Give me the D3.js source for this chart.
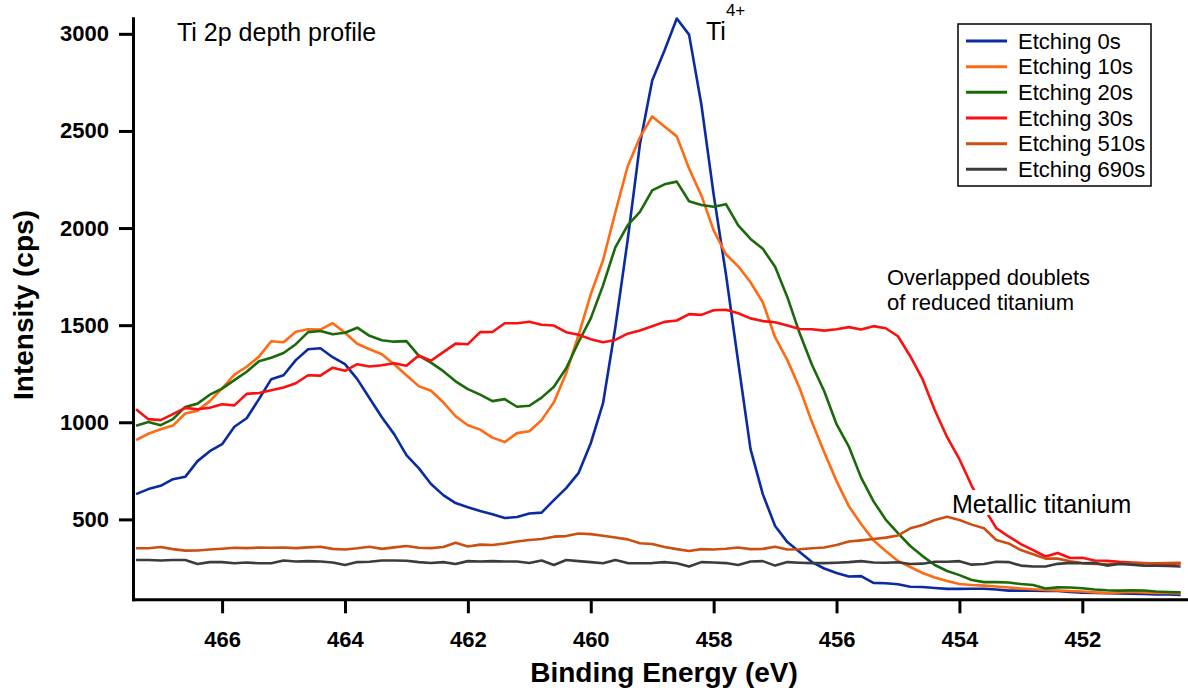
<!DOCTYPE html>
<html>
<head>
<meta charset="utf-8">
<script src="https://cdn.jsdelivr.net/npm/d3@7"></script>
<style>
  html, body { margin: 0; padding: 0; background: #fff; }
  svg { display: block; }
</style>
</head>
<body>
<div id="chart"></div>
<script>
// binding energy grid (eV), every 0.2 eV
const energies = [467.4, 467.2, 467.0, 466.8, 466.6, 466.4, 466.2, 466.0, 465.8, 465.6,
  465.4, 465.2, 465.0, 464.8, 464.6, 464.4, 464.2, 464.0, 463.8, 463.6,
  463.4, 463.2, 463.0, 462.8, 462.6, 462.4, 462.2, 462.0, 461.8, 461.6,
  461.4, 461.2, 461.0, 460.8, 460.6, 460.4, 460.2, 460.0, 459.8, 459.6,
  459.4, 459.2, 459.0, 458.8, 458.6, 458.4, 458.2, 458.0, 457.8, 457.6,
  457.4, 457.2, 457.0, 456.8, 456.6, 456.4, 456.2, 456.0, 455.8, 455.6,
  455.4, 455.2, 455.0, 454.8, 454.6, 454.4, 454.2, 454.0, 453.8, 453.6,
  453.4, 453.2, 453.0, 452.8, 452.6, 452.4, 452.2, 452.0, 451.8, 451.6,
  451.4, 451.2, 451.0, 450.8, 450.6, 450.4]

const etch0 = [630, 656, 673, 707, 719, 800, 851, 887, 977, 1021,
  1119, 1222, 1242, 1320, 1376, 1381, 1335, 1299, 1222, 1124,
  1026, 939, 831, 764, 682, 625, 584, 563, 543, 527,
  507, 512, 530, 535, 599, 661, 738, 892, 1098, 1489,
  1937, 2431, 2760, 2914, 3079, 2996, 2636, 2173, 1762, 1309,
  862, 630, 466, 383, 332, 280, 247, 224, 206, 208,
  173, 171, 166, 153, 152, 147, 142, 142, 143, 143,
  139, 133, 133, 133, 131, 131, 126, 122, 121, 120,
  118, 117, 116, 114, 113, 111]

const etch10 = [908, 941, 964, 983, 1045, 1060, 1109, 1175, 1245, 1286,
  1338, 1417, 1412, 1466, 1479, 1477, 1510, 1461, 1404, 1376,
  1350, 1299, 1242, 1186, 1162, 1103, 1031, 985, 962, 921,
  898, 944, 954, 1011, 1103, 1253, 1448, 1659, 1834, 2081,
  2317, 2467, 2575, 2523, 2472, 2307, 2168, 1988, 1865, 1803,
  1721, 1618, 1438, 1320, 1175, 1001, 846, 697, 568, 476,
  393, 337, 286, 255, 224, 201, 183, 167, 162, 159,
  154, 149, 144, 140, 136, 134, 131, 129, 124, 121,
  124, 126, 124, 121, 121, 119]

const etch20 = [982, 1001, 985, 1016, 1079, 1096, 1142, 1173, 1217, 1260,
  1314, 1332, 1357, 1402, 1464, 1470, 1453, 1461, 1487, 1445,
  1422, 1415, 1418, 1343, 1307, 1263, 1211, 1171, 1142, 1109,
  1119, 1080, 1085, 1127, 1183, 1278, 1412, 1535, 1705, 1901,
  2014, 2083, 2194, 2225, 2239, 2138, 2119, 2110, 2123, 2014,
  1944, 1893, 1801, 1644, 1458, 1296, 1160, 990, 875, 715,
  594, 499, 429, 363, 311, 265, 234, 213, 188, 177,
  177, 175, 167, 162, 144, 150, 149, 145, 139, 135,
  133, 135, 134, 129, 126, 124]

const etch30 = [1067, 1016, 1011, 1042, 1074, 1067, 1075, 1093, 1087, 1146,
  1151, 1165, 1179, 1201, 1242, 1240, 1281, 1265, 1299, 1287,
  1294, 1304, 1291, 1344, 1317, 1361, 1405, 1402, 1464, 1465,
  1510, 1510, 1518, 1502, 1498, 1464, 1451, 1428, 1412, 1424,
  1456, 1472, 1494, 1517, 1524, 1557, 1553, 1577, 1579, 1561,
  1535, 1521, 1515, 1498, 1480, 1479, 1472, 1479, 1490, 1478,
  1495, 1484, 1443, 1340, 1222, 1062, 923, 810, 673, 558,
  455, 412, 373, 342, 309, 327, 301, 302, 288, 287,
  281, 278, 275, 272, 270, 273]

const etch510 = [351, 351, 358, 347, 339, 340, 345, 349, 354, 352,
  355, 354, 355, 352, 356, 359, 348, 345, 351, 359,
  348, 356, 363, 354, 352, 358, 380, 360, 370, 368,
  376, 386, 394, 399, 411, 414, 427, 424, 416, 407,
  397, 377, 373, 358, 347, 337, 347, 345, 349, 355,
  347, 348, 359, 345, 346, 351, 355, 368, 386, 392,
  399, 406, 417, 454, 471, 497, 513, 497, 473, 454,
  394, 376, 342, 320, 298, 298, 284, 275, 271, 270,
  272, 274, 274, 274, 275, 277]

const etch690 = [291, 291, 288, 291, 291, 270, 280, 280, 274, 278,
  274, 274, 288, 283, 285, 283, 278, 265, 280, 282,
  288, 288, 287, 280, 275, 280, 270, 285, 283, 285,
  283, 283, 275, 288, 265, 291, 285, 280, 274, 291,
  275, 274, 275, 280, 274, 257, 280, 278, 275, 265,
  283, 285, 262, 280, 277, 275, 275, 277, 280, 285,
  278, 277, 279, 270, 272, 282, 282, 285, 267, 270,
  282, 280, 262, 257, 257, 271, 276, 274, 276, 262,
  271, 267, 262, 261, 260, 257]

const seriesNames = ['Etching 0s', 'Etching 10s', 'Etching 20s', 'Etching 30s', 'Etching 510s', 'Etching 690s']
const seriesValues = [etch0, etch10, etch20, etch30, etch510, etch690]
const seriesColors = ['#0b2ba0', '#ff6a12', '#1b6a0a', '#fb0f0f', '#cc4e10', '#3c3c3c']

const xTicks = [466, 464, 462, 460, 458, 456, 454, 452]
const yTicks = [500, 1000, 1500, 2000, 2500, 3000]

const width = 1188
const height = 688
const font = "'Liberation Sans', Arial, Helvetica, sans-serif"

const svg = d3
  .select('#chart')
  .append('svg')
  .attr('width', width)
  .attr('height', height)
  .attr('viewBox', [0, 0, width, height])
  .style('font-family', font)

const x = d3.scaleLinear().domain([467.45, 450.28]).range([133, 1188])
const y = d3.scaleLinear().domain([88.5, 3080]).range([599.3, 18.3])

// curves
const line = d3
  .line()
  .x((d) => x(d[0]))
  .y((d) => y(d[1]))

svg
  .append('g')
  .selectAll('path')
  .data(seriesValues)
  .join('path')
  .attr('d', (vals) => line(vals.map((v, i) => [energies[i], v])))
  .attr('fill', 'none')
  .attr('stroke', (d, i) => seriesColors[i])
  .attr('stroke-width', 2.6)
  .attr('stroke-linejoin', 'round')

// axes
const yAxis = svg
  .append('g')
  .attr('transform', `translate(${x.range()[0]},0)`)
  .call(d3.axisLeft(y).tickValues(yTicks).tickFormat(d3.format('d')).tickSize(14).tickSizeOuter(0).tickPadding(10))

const xAxis = svg
  .append('g')
  .attr('transform', `translate(0,${y.range()[0]})`)
  .call(d3.axisBottom(x).tickValues(xTicks).tickFormat(d3.format('d')).tickSize(14).tickSizeOuter(0).tickPadding(18))

for (const ax of [xAxis, yAxis]) {
  ax.attr('font-family', font).attr('font-size', 22).attr('font-weight', 'bold')
  ax.select('.domain').attr('stroke', '#000').attr('stroke-width', 3).attr('stroke-linecap', 'square')
  ax.selectAll('.tick line').attr('stroke', '#000').attr('stroke-width', 3)
  ax.selectAll('.tick text').attr('fill', '#000')
}

// axis titles
svg
  .append('text')
  .attr('transform', 'translate(33,305) rotate(-90)')
  .attr('text-anchor', 'middle')
  .attr('font-size', 28)
  .attr('font-weight', 'bold')
  .text('Intensity (cps)')

svg
  .append('text')
  .attr('x', 664)
  .attr('y', 682)
  .attr('text-anchor', 'middle')
  .attr('font-size', 28)
  .attr('font-weight', 'bold')
  .text('Binding Energy (eV)')

// annotations
svg.append('text').attr('x', 177).attr('y', 40.5).attr('font-size', 25).text('Ti 2p depth profile')

const ti = svg.append('text').attr('x', 706).attr('y', 40).attr('font-size', 25)
ti.append('tspan').text('Ti')
ti.append('tspan').attr('font-size', 17).attr('dy', -24).text('4+')

svg.append('text').attr('x', 887).attr('y', 285).attr('font-size', 22).text('Overlapped doublets')
svg.append('text').attr('x', 887).attr('y', 310).attr('font-size', 22).text('of reduced titanium')

svg.append('rect').attr('x', 950).attr('y', 490).attr('width', 188).attr('height', 25).attr('fill', '#fff')
svg.append('text').attr('x', 952).attr('y', 513).attr('font-size', 25).text('Metallic titanium')

// legend
const legend = svg.append('g')
legend
  .append('rect')
  .attr('x', 958)
  .attr('y', 24)
  .attr('width', 193)
  .attr('height', 162)
  .attr('fill', '#fff')
  .attr('stroke', '#000')
  .attr('stroke-width', 1.5)

const rows = legend
  .selectAll('g.row')
  .data(seriesNames)
  .join('g')
  .attr('class', 'row')
  .attr('transform', (d, i) => `translate(0,${41 + i * 25.67})`)

rows
  .append('line')
  .attr('x1', 966)
  .attr('x2', 1007)
  .attr('stroke', (d, i) => seriesColors[i])
  .attr('stroke-width', 3)

rows
  .append('text')
  .attr('x', 1018)
  .attr('y', 7.8)
  .attr('font-size', 22)
  .text((d) => d)
</script>
</body>
</html>
